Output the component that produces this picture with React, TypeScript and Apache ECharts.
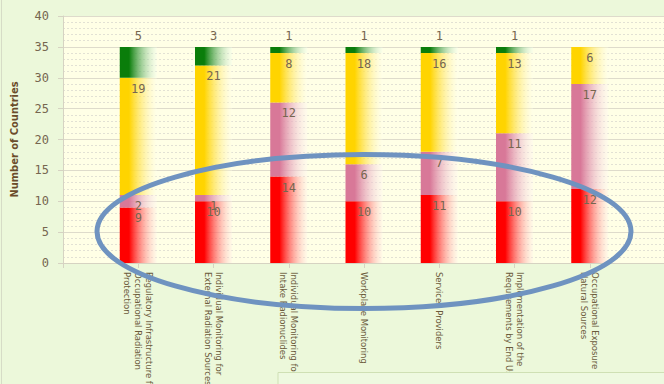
import React, { useEffect, useRef } from "react";
import * as echarts from "echarts";

const categories: string[] = [
  "",
  "Regulatory Infrastructure for\nOccupational Radiation\nProtection",
  "Individual Monitoring for\nExternal Radiation Sources",
  "Individual Monitoring for\nIntake Radionuclides",
  "Workplace Monitoring",
  "Services Providers",
  "Implementation of the\nRequirements by End Users",
  "Occupational Exposure to\nNatural Sources",
  "",
];

const redValues: (number | null)[] = [null, 9, 10, 14, 10, 11, 10, 12, null];
const pinkValues: (number | null)[] = [null, 2, 1, 12, 6, 7, 11, 17, null];
const yellowValues: (number | null)[] = [null, 19, 21, 8, 18, 16, 13, 6, null];
const greenValues: (number | null)[] = [null, 5, 3, 1, 1, 1, 1, 0, null];

const yTicks = { min: 0, max: 40, interval: 5 };

const fade = (c: string, c0: string) =>
  new echarts.graphic.LinearGradient(0, 0, 1, 0, [
    { offset: 0, color: c },
    { offset: 0.25, color: c },
    { offset: 1, color: c0 },
  ]);

export default function App() {
  const ref = useRef<HTMLDivElement>(null);
  useEffect(() => {
    if (!ref.current) return;
    const chart = echarts.init(ref.current, undefined, { renderer: "svg" });
    const labelBase = {
      show: true,
      fontFamily: "DejaVu Sans Mono",
      fontSize: 12,
      color: "#76664f",
      formatter: (p: any) => (p.value ? String(p.value) : ""),
    };
    const mk = (name: string, data: (number | null)[], c: string, c0: string, pos: string) => ({
      name,
      type: "bar",
      stack: "total",
      barWidth: 37,
      data,
      itemStyle: { color: fade(c, c0) },
      label: { ...labelBase, position: pos, distance: 5 },
    });
    chart.setOption({
      animation: false,
      backgroundColor: "#ECF8DA",
      grid: {
        left: 63,
        right: -1,
        top: 16,
        bottom: 121,
        outerBoundsMode: "none",
        containLabel: false,
        show: true,
        backgroundColor: "#FFFFE6",
        borderWidth: 0,
      },
      xAxis: {
        type: "category",
        data: categories,
        boundaryGap: false,
        axisLine: { lineStyle: { color: "#d6d3c2" } },
        axisTick: { show: true, length: 5, lineStyle: { color: "#d6d3c2" } },
        axisLabel: {
          rotate: -90,
          interval: 0,
          margin: 9,
          fontFamily: "DejaVu Sans Condensed",
          fontSize: 9.4,
          lineHeight: 11,
          color: "#6b5a3a",
        },
        splitLine: { show: false },
      },
      yAxis: {
        type: "value",
        min: yTicks.min,
        max: yTicks.max,
        interval: yTicks.interval,
        name: "Number of Countries",
        nameLocation: "middle",
        nameGap: 43,
        nameTextStyle: {
          fontFamily: "DejaVu Sans Condensed",
          fontWeight: "bold",
          fontSize: 11,
          color: "#6b4c2a",
        },
        axisLine: { show: true, lineStyle: { color: "#d6d3c2" } },
        axisTick: { show: true, length: 5, lineStyle: { color: "#d6d3c2" } },
        axisLabel: {
          margin: 14,
          fontFamily: "DejaVu Sans Mono",
          fontSize: 12,
          color: "#76664f",
        },
        splitLine: { show: true, lineStyle: { color: "#dedbcb", width: 1 } },
        minorTick: { show: false, splitNumber: 5 },
        minorSplitLine: { show: true, lineStyle: { color: "#e2e1d4", type: [2, 2], width: 1 } },
      },
      series: [
        mk("Red", redValues, "#ff0000", "rgba(255,240,235,0.3)", "insideTop"),
        mk("Pink", pinkValues, "#d87898", "rgba(255,245,245,0.3)", "insideTop"),
        mk("Yellow", yellowValues, "#ffd400", "rgba(255,255,235,0.3)", "insideTop"),
        mk("Green", greenValues, "#0a7d0a", "rgba(240,255,240,0.3)", "top"),
      ],
      graphic: [
        {
          type: "rect",
          shape: { x: 278, y: 372.5, width: 400, height: 30 },
          style: { fill: "#EEF9E0", stroke: "#cfe0b4", lineWidth: 1 },
          z: 100,
        },
        {
          type: "line",
          shape: { x1: 1.5, y1: 0, x2: 1.5, y2: 384 },
          style: { stroke: "#d6dcc6", lineWidth: 1 },
          z: 100,
        },
        {
          type: "ellipse",
          shape: { cx: 364, cy: 231.5, rx: 267, ry: 77 },
          style: { fill: "none", stroke: "#6f93c0", lineWidth: 5 },
          z: 110,
        },
      ],
    });
    return () => chart.dispose();
  }, []);
  return (
    <div
      ref={ref}
      style={{ position: "fixed", left: 0, top: 0, width: 664, height: 384 }}
    />
  );
}
